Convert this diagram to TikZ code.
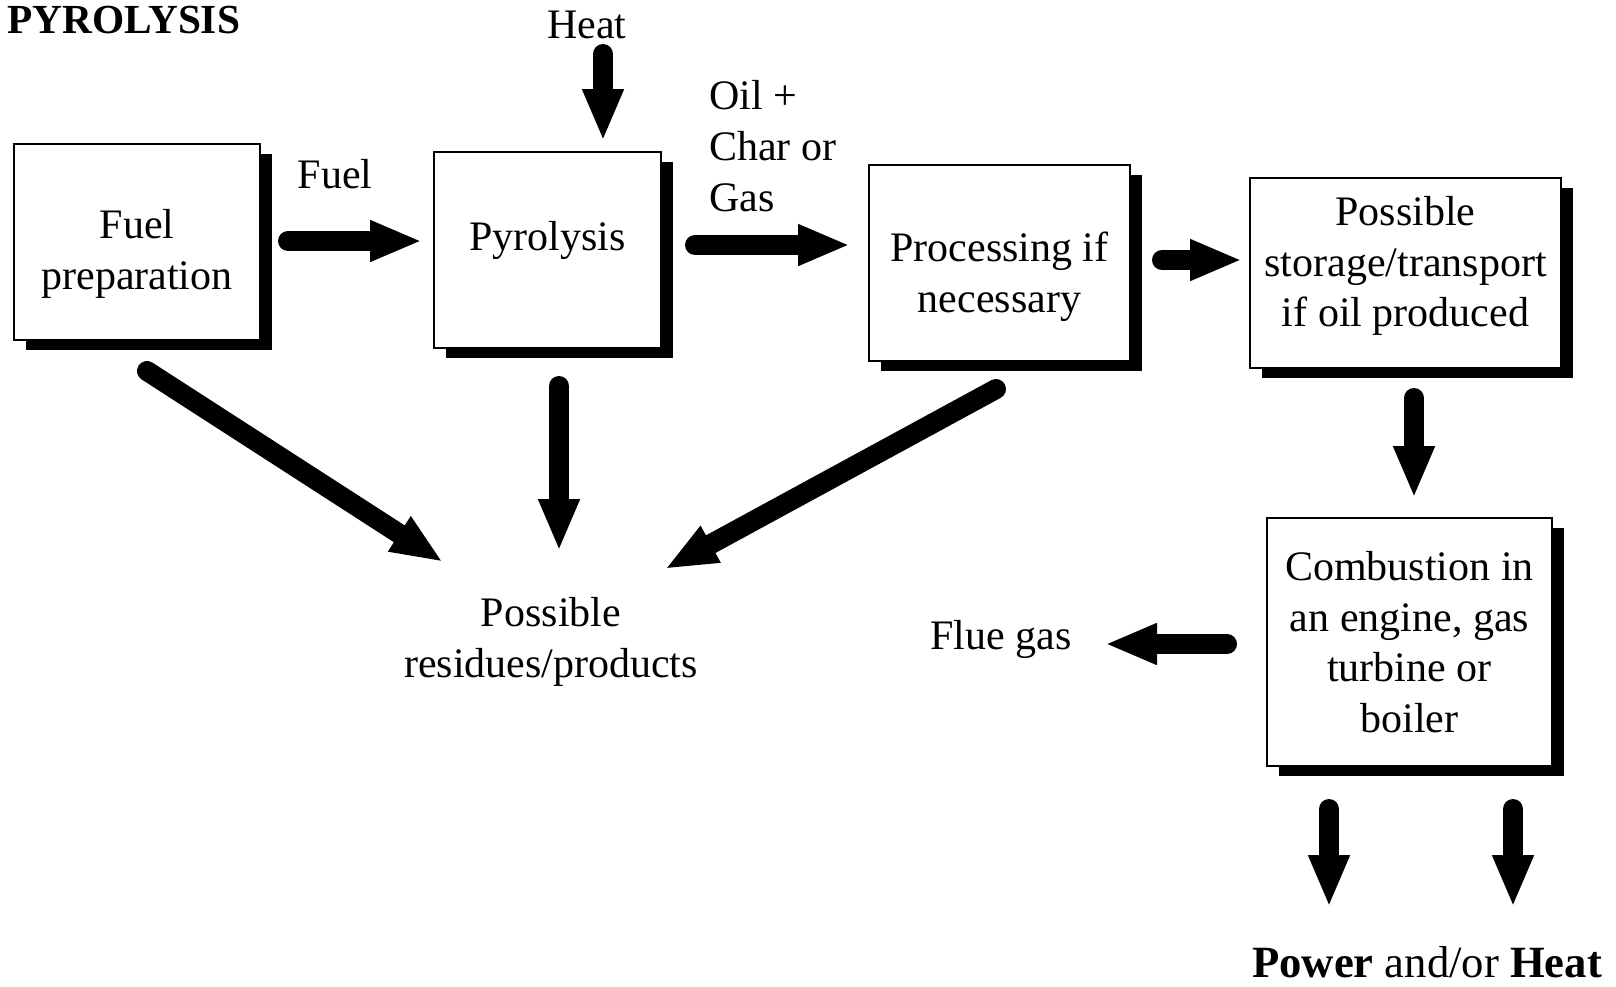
\documentclass[tikz,border=0pt]{standalone}
\usepackage{fontspec}
\setmainfont{Liberation Serif}
\usetikzlibrary{arrows.meta,shadows}
\begin{document}
\begin{tikzpicture}[x=0.75pt,y=-0.75pt,
  box/.style={draw, line width=2pt, fill=white, inner sep=0pt,
    drop shadow={shadow xshift=9pt, shadow yshift=-7.5pt, opacity=1, fill=black}},
  lbl/.style={inner sep=0pt, font=\fontsize{31.5}{38}\selectfont},
  fat/.style={line width=15pt, line cap=round, -{Triangle[width=28.5pt,length=39pt]}}]
\useasboundingbox (0,0) rectangle (1616,986);

% title
\node[anchor=base west, inner sep=0pt, font=\bfseries\fontsize{31}{38}\selectfont] (title) at (7,33) {PYROLYSIS};

% boxes
\node[box, minimum width=184.5pt, minimum height=147pt] (prep) at (137,242) {};
\node[box, minimum width=170.25pt, minimum height=147pt] (pyro) at (547.5,250) {};
\node[box, minimum width=195.75pt, minimum height=147pt] (proc) at (999.5,263) {};
\node[box, minimum width=233.25pt, minimum height=142.5pt] (stor) at (1405.5,273) {};
\node[box, minimum width=213.75pt, minimum height=186pt] (comb) at (1409.5,642) {};

% box texts
\node[lbl, align=center, yshift=-9pt] (prep-t) at (prep.center) {Fuel\\preparation};
\node[lbl, align=center, yshift=7.5pt] (pyro-t) at (pyro.center) {Pyrolysis};
\node[lbl, align=center, yshift=-10.5pt] (proc-t) at (proc.center) {Processing if\\necessary};
\node[lbl, align=center, yshift=5.25pt] (stor-t) at (stor.center) {Possible\\storage/transport\\if oil produced};
\node[lbl, align=center] (comb-t) at (comb.center) {Combustion in\\an engine, gas\\turbine or\\boiler};

% labels
\node[lbl, anchor=base] (heat) at (587,38) {Heat};
\node[lbl, anchor=base] (fuel) at (335,188) {Fuel};
\node[lbl, align=left, anchor=west] (oil) at (709,146) {Oil +\\Char or\\Gas};
\node[lbl, align=center] (resid) at (551,642) {Possible\\residues/products};
\node[lbl, anchor=base] (flue) at (1001,649) {Flue gas};
\node[lbl, anchor=base, font=\fontsize{33.5}{40}\selectfont] (power) at (1427,977) {\textbf{Power} and/or \textbf{Heat}};

% arrow end points
\coordinate (h1) at (603,54);   \coordinate (h2) at (603,141);
\coordinate (f1) at (288,241);  \coordinate (f2) at (422,241);
\coordinate (o1) at (695,245);  \coordinate (o2) at (850,245);
\coordinate (p1) at (1162,260); \coordinate (p2) at (1242,260);
\coordinate (s1) at (1414,398); \coordinate (s2) at (1414,498);
\coordinate (g1) at (1227,644); \coordinate (g2) at (1105,644);
\coordinate (w1) at (1329,809); \coordinate (w2) at (1329,907);
\coordinate (t1) at (1513,809); \coordinate (t2) at (1513,907);
\coordinate (d1) at (147,371);  \coordinate (d2) at (443,562);
\coordinate (v1) at (559,386);  \coordinate (v2) at (559,551);
\coordinate (e1) at (996,389);  \coordinate (e2) at (665,569);

% arrows
\draw[fat] (h1) -- (h2);
\draw[fat] (f1) -- (f2);
\draw[fat] (o1) -- (o2);
\draw[fat] (p1) -- (p2);
\draw[fat] (s1) -- (s2);
\draw[fat] (g1) -- (g2);
\draw[fat] (w1) -- (w2);
\draw[fat] (t1) -- (t2);
\draw[fat] (d1) -- (d2);
\draw[fat] (v1) -- (v2);
\draw[fat] (e1) -- (e2);
\end{tikzpicture}
\end{document}
